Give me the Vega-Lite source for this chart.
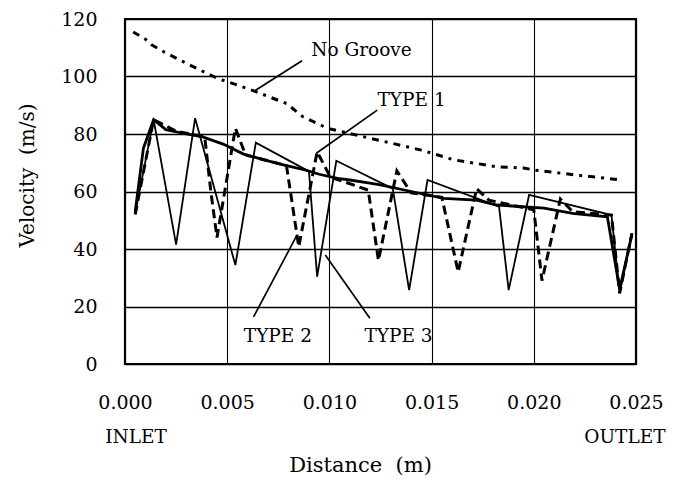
{
  "$schema": "https://vega.github.io/schema/vega-lite/v6.json",
  "autosize": "none",
  "padding": {"left": 125, "top": 19, "right": 38, "bottom": 117},
  "width": 511,
  "height": 345,
  "background": "white",
  "config": {
    "font": "DejaVu Serif",
    "view": {"stroke": "black", "strokeWidth": 2.2},
    "axis": {
      "labelFont": "DejaVu Serif", "titleFont": "DejaVu Serif",
      "labelColor": "black", "titleColor": "black",
      "labelFontSize": 19, "titleFontSize": 19, "titleFontWeight": "normal",
      "grid": true, "gridColor": "black", "gridWidth": 1.3, "gridOpacity": 1,
      "domain": false, "ticks": false, "labelFlush": false
    }
  },
  "datasets": {
    "lines": [
      {"series": "No Groove", "x": 0.0004, "y": 115.5},
      {"series": "No Groove", "x": 0.0010, "y": 113},
      {"series": "No Groove", "x": 0.0013, "y": 111},
      {"series": "No Groove", "x": 0.0019, "y": 108.6},
      {"series": "No Groove", "x": 0.0030, "y": 104.6},
      {"series": "No Groove", "x": 0.0045, "y": 99.4},
      {"series": "No Groove", "x": 0.0055, "y": 97},
      {"series": "No Groove", "x": 0.0063, "y": 95},
      {"series": "No Groove", "x": 0.0079, "y": 90.6},
      {"series": "No Groove", "x": 0.0087, "y": 86},
      {"series": "No Groove", "x": 0.0099, "y": 82},
      {"series": "No Groove", "x": 0.0120, "y": 78.5},
      {"series": "No Groove", "x": 0.0145, "y": 74.4},
      {"series": "No Groove", "x": 0.0161, "y": 71},
      {"series": "No Groove", "x": 0.0182, "y": 68.6},
      {"series": "No Groove", "x": 0.0195, "y": 68.2},
      {"series": "No Groove", "x": 0.0200, "y": 67.5},
      {"series": "No Groove", "x": 0.0221, "y": 65.7},
      {"series": "No Groove", "x": 0.0243, "y": 64},

      {"series": "TYPE 1", "x": 0.0005, "y": 53},
      {"series": "TYPE 1", "x": 0.0009, "y": 75},
      {"series": "TYPE 1", "x": 0.0014, "y": 85},
      {"series": "TYPE 1", "x": 0.0020, "y": 81.5},
      {"series": "TYPE 1", "x": 0.0030, "y": 80},
      {"series": "TYPE 1", "x": 0.0038, "y": 79},
      {"series": "TYPE 1", "x": 0.0048, "y": 76.5},
      {"series": "TYPE 1", "x": 0.0058, "y": 73},
      {"series": "TYPE 1", "x": 0.0068, "y": 71},
      {"series": "TYPE 1", "x": 0.0078, "y": 69.2},
      {"series": "TYPE 1", "x": 0.0088, "y": 67.5},
      {"series": "TYPE 1", "x": 0.0095, "y": 66},
      {"series": "TYPE 1", "x": 0.0104, "y": 64.6},
      {"series": "TYPE 1", "x": 0.0110, "y": 64},
      {"series": "TYPE 1", "x": 0.0119, "y": 63},
      {"series": "TYPE 1", "x": 0.0125, "y": 62.3},
      {"series": "TYPE 1", "x": 0.0140, "y": 60},
      {"series": "TYPE 1", "x": 0.0156, "y": 57.6},
      {"series": "TYPE 1", "x": 0.0172, "y": 57},
      {"series": "TYPE 1", "x": 0.0182, "y": 55.3},
      {"series": "TYPE 1", "x": 0.0205, "y": 54.2},
      {"series": "TYPE 1", "x": 0.0219, "y": 52.4},
      {"series": "TYPE 1", "x": 0.0236, "y": 51.2},
      {"series": "TYPE 1", "x": 0.0242, "y": 26},
      {"series": "TYPE 1", "x": 0.0248, "y": 45},

      {"series": "TYPE 2", "x": 0.0005, "y": 52},
      {"series": "TYPE 2", "x": 0.0014, "y": 85},
      {"series": "TYPE 2", "x": 0.0025, "y": 81},
      {"series": "TYPE 2", "x": 0.0039, "y": 79},
      {"series": "TYPE 2", "x": 0.0042, "y": 60},
      {"series": "TYPE 2", "x": 0.0045, "y": 44},
      {"series": "TYPE 2", "x": 0.0054, "y": 82},
      {"series": "TYPE 2", "x": 0.0059, "y": 72.7},
      {"series": "TYPE 2", "x": 0.0079, "y": 69},
      {"series": "TYPE 2", "x": 0.0085, "y": 40.8},
      {"series": "TYPE 2", "x": 0.0094, "y": 73.8},
      {"series": "TYPE 2", "x": 0.01005, "y": 65},
      {"series": "TYPE 2", "x": 0.0119, "y": 60.5},
      {"series": "TYPE 2", "x": 0.0124, "y": 36},
      {"series": "TYPE 2", "x": 0.0133, "y": 67.2},
      {"series": "TYPE 2", "x": 0.0140, "y": 59.5},
      {"series": "TYPE 2", "x": 0.0155, "y": 58},
      {"series": "TYPE 2", "x": 0.0163, "y": 32},
      {"series": "TYPE 2", "x": 0.0172, "y": 61},
      {"series": "TYPE 2", "x": 0.0178, "y": 57},
      {"series": "TYPE 2", "x": 0.0200, "y": 53.6},
      {"series": "TYPE 2", "x": 0.0204, "y": 29},
      {"series": "TYPE 2", "x": 0.0213, "y": 57.4},
      {"series": "TYPE 2", "x": 0.0219, "y": 53},
      {"series": "TYPE 2", "x": 0.0238, "y": 51.8},
      {"series": "TYPE 2", "x": 0.0242, "y": 24.6},
      {"series": "TYPE 2", "x": 0.0248, "y": 45.5},

      {"series": "TYPE 3", "x": 0.0005, "y": 52.5},
      {"series": "TYPE 3", "x": 0.0014, "y": 85},
      {"series": "TYPE 3", "x": 0.0025, "y": 41.5},
      {"series": "TYPE 3", "x": 0.00343, "y": 85.5},
      {"series": "TYPE 3", "x": 0.0054, "y": 34.4},
      {"series": "TYPE 3", "x": 0.0064, "y": 77},
      {"series": "TYPE 3", "x": 0.0090, "y": 67},
      {"series": "TYPE 3", "x": 0.0094, "y": 30.4},
      {"series": "TYPE 3", "x": 0.01034, "y": 70.7},
      {"series": "TYPE 3", "x": 0.0131, "y": 61},
      {"series": "TYPE 3", "x": 0.0139, "y": 25.7},
      {"series": "TYPE 3", "x": 0.0148, "y": 64},
      {"series": "TYPE 3", "x": 0.0183, "y": 54.7},
      {"series": "TYPE 3", "x": 0.01877, "y": 25.7},
      {"series": "TYPE 3", "x": 0.01977, "y": 58.8},
      {"series": "TYPE 3", "x": 0.0238, "y": 51.8},
      {"series": "TYPE 3", "x": 0.0242, "y": 24.6},
      {"series": "TYPE 3", "x": 0.0248, "y": 45.5}
    ],
    "labels": [
      {"label": "No Groove", "x": 0.01157, "y": 109.2},
      {"label": "TYPE 1", "x": 0.01402, "y": 91.9},
      {"label": "TYPE 2", "x": 0.00748, "y": 9.7},
      {"label": "TYPE 3", "x": 0.01338, "y": 9.7},
      {"label": "INLET", "x": 0.00054, "y": -25.4},
      {"label": "OUTLET", "x": 0.02446, "y": -25.4}
    ],
    "pointers": [
      {"x": 0.00866, "y": 105.5, "x2": 0.00637, "y2": 95.1},
      {"x": 0.01234, "y": 88.3, "x2": 0.00936, "y2": 73.3},
      {"x": 0.00629, "y": 16.4, "x2": 0.00842, "y2": 44.9},
      {"x": 0.01198, "y": 15.9, "x2": 0.0098, "y2": 37.9}
    ]
  },
  "encoding": {
    "x": {
      "field": "x", "type": "quantitative",
      "scale": {"domain": [0, 0.025], "nice": false, "zero": false},
      "axis": {
        "values": [0, 0.005, 0.01, 0.015, 0.02, 0.025],
        "format": ".3f",
        "title": "Distance\u00a0\u00a0(m)",
        "titleFontSize": 21,
        "labelPadding": 29,
        "titleX": 235, "titleY": 101, "titleBaseline": "middle", "titleAnchor": "middle",
        "gridWidth": 1.1
      }
    },
    "y": {
      "field": "y", "type": "quantitative",
      "scale": {"domain": [0, 120], "nice": false},
      "axis": {
        "values": [0, 20, 40, 60, 80, 100, 120],
        "title": "Velocity\u00a0\u00a0(m/s)",
        "titleFontSize": 20,
        "labelPadding": 28,
        "titleX": -98, "titleY": 156, "titleBaseline": "middle", "titleAnchor": "middle",
        "gridWidth": 1.7
      }
    }
  },
  "layer": [
    {
      "data": {"name": "lines"},
      "transform": [{"filter": "datum.series === 'No Groove'"}],
      "mark": {"type": "line", "color": "black", "strokeWidth": 3, "strokeDash": [7, 6, 3, 6]}
    },
    {
      "data": {"name": "lines"},
      "transform": [{"filter": "datum.series === 'TYPE 1'"}],
      "mark": {"type": "line", "color": "black", "strokeWidth": 2.8}
    },
    {
      "data": {"name": "lines"},
      "transform": [{"filter": "datum.series === 'TYPE 2'"}],
      "mark": {"type": "line", "color": "black", "strokeWidth": 3, "strokeDash": [9, 5]}
    },
    {
      "data": {"name": "lines"},
      "transform": [{"filter": "datum.series === 'TYPE 3'"}],
      "mark": {"type": "line", "color": "black", "strokeWidth": 1.8}
    },
    {
      "data": {"name": "pointers"},
      "mark": {"type": "rule", "color": "black", "strokeWidth": 1.7},
      "encoding": {
        "x2": {"field": "x2"},
        "y2": {"field": "y2"}
      }
    },
    {
      "data": {"name": "labels"},
      "mark": {"type": "text", "color": "black", "fontSize": 18.5, "font": "DejaVu Serif", "align": "center", "baseline": "middle", "clip": false},
      "encoding": {"text": {"field": "label"}}
    }
  ]
}
